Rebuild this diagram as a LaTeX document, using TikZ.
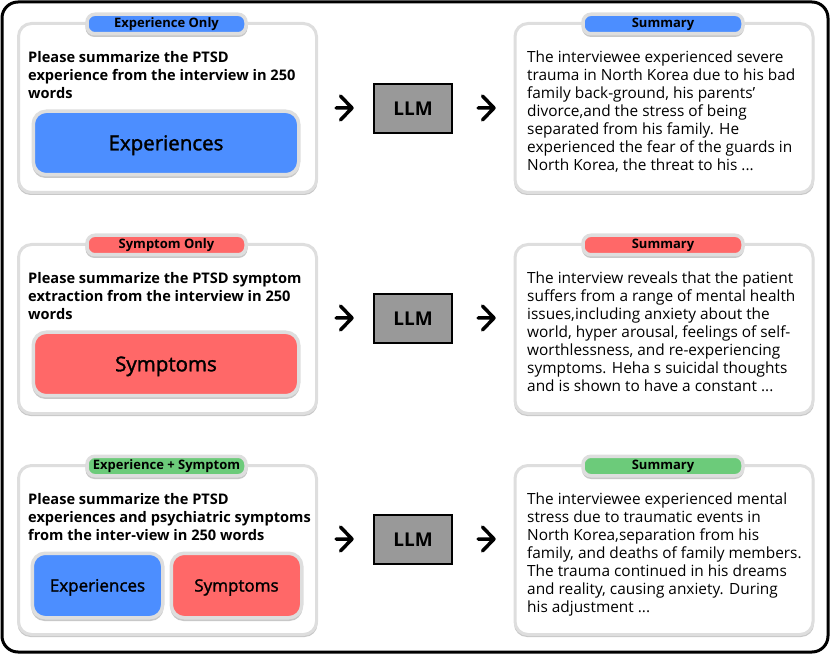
\documentclass[tikz,border=0pt]{standalone}
\usepackage{fontspec}
\setmainfont{Open Sans}
\newfontfamily\medfont{Open Sans}[FakeBold=1.6]
\definecolor{cblue}{HTML}{4C8EFF}
\definecolor{cred}{HTML}{FF6868}
\definecolor{cgreen}{HTML}{6CCB7A}
\definecolor{bgray}{HTML}{DEDEDE}
\definecolor{sgray}{HTML}{C8C8C8}
\definecolor{llmgray}{HTML}{999999}
\tikzset{
  frame/.style={draw=black, line width=3pt, rounded corners=16pt},
  panel/.style={draw=bgray, fill=white, line width=3pt, rounded corners=13pt, minimum width=298pt, minimum height=169pt, inner sep=0pt},
  pshadow/.style={fill=sgray, rounded corners=13pt, minimum width=300pt, minimum height=170pt, inner sep=0pt},
  pill/.style={draw=bgray, line width=3.5pt, rounded corners=8pt, minimum width=159pt, minimum height=19.5pt, inner sep=0pt, font=\fontsize{13}{14}\bfseries\selectfont},
  pillshadow/.style={fill=sgray, rounded corners=9pt, minimum width=162pt, minimum height=22pt, inner sep=0pt},
  prompt/.style={align=left, inner sep=0pt, anchor=north west, font=\fontsize{14.6}{18}\bfseries\selectfont},
  summ/.style={align=left, inner sep=0pt, anchor=north west, font=\fontsize{15.4}{18}\selectfont},
  bigbox/.style={draw=bgray, line width=3.5pt, rounded corners=13pt, minimum width=265.5pt, minimum height=63.5pt, inner sep=0pt, text height=14.6pt, text depth=0pt, font=\fontsize{20.5}{24}\medfont},
  smallbox/.style={draw=bgray, line width=3.5pt, rounded corners=13pt, minimum width=130.5pt, minimum height=64.5pt, inner sep=0pt, text height=12.1pt, text depth=0pt, font=\fontsize{17}{20}\medfont},
  boxshadow/.style={fill=sgray, rounded corners=13pt, inner sep=0pt},
  llm/.style={draw=black, fill=llmgray, line width=1.5pt, minimum width=78pt, minimum height=49pt, inner sep=0pt, font=\fontsize{19}{22}\bfseries\selectfont},
  arr/.style={line width=3.5pt, line cap=round, line join=round}
}
\newcommand\rowframe[5]{%
  \begin{scope}[shift={(0,#2)}]
    \node[pshadow] at (167.5,110) {};
    \node[panel] (L#1) at (167.5,108) {};
    \node[pshadow] at (664,110) {};
    \node[panel] (R#1) at (664,108) {};
    \node[pillshadow] at (166.5,26) {};
    \node[pill, fill=#3] (LP#1) at (166.5,24) {#4};
    \node[pillshadow] at (663,26) {};
    \node[pill, fill=#3, minimum width=160pt] (RP#1) at (663,24) {Summary};
  \end{scope}
  \begin{scope}[shift={(0,#5)}]
    \node[llm] (M#1) at (413,108.5) {LLM};
    \coordinate (as#1) at (336,108);
    \coordinate (ae#1) at (352,108);
    \coordinate (bs#1) at (478,108);
    \coordinate (be#1) at (494,108);
    \draw[arr] (as#1) -- (ae#1) (ae#1) -- ++(-11.5,-12) (ae#1) -- ++(-11.5,12);
    \draw[arr] (bs#1) -- (be#1) (be#1) -- ++(-11.5,-12) (be#1) -- ++(-11.5,12);
  \end{scope}}
\begin{document}
\begin{tikzpicture}[x=1pt,y=-1pt]
\useasboundingbox (0,0) rectangle (831,655);
\node[frame, minimum width=826pt, minimum height=650pt, inner sep=0pt] (F) at (415,327) {};
\rowframe{1}{0}{cblue}{Experience Only}{0}
\rowframe{2}{221}{cred}{Symptom Only}{210}
\rowframe{3}{442}{cgreen}{Experience + Symptom}{431}
% row 1
\node[prompt] (Q1) at (28,51) {Please summarize the PTSD\\experience from the interview in 250\\words};
\node[boxshadow, minimum width=267pt, minimum height=64pt] at (166,146) {};
\node[bigbox, fill=cblue] (E1) at (166,143) {Experiences};
\node[summ] (S1) at (527,51) {The interviewee experienced severe\\trauma in North Korea due to his bad\\family back-ground, his parents’\\divorce,and the stress of being\\separated from his family. He\\experienced the fear of the guards in\\North Korea, the threat to his ...};
% row 2
\node[prompt] (Q2) at (28,272) {Please summarize the PTSD symptom\\extraction from the interview in 250\\words};
\node[boxshadow, minimum width=267pt, minimum height=64pt] at (166,367) {};
\node[bigbox, fill=cred] (E2) at (166,364) {Symptoms};
\node[summ] (S2) at (527,272) {The interview reveals that the patient\\suffers from a range of mental health\\issues,including anxiety about the\\world, hyper arousal, feelings of self-\\worthlessness, and re-experiencing\\symptoms. Heha s suicidal thoughts\\and is shown to have a constant ...};
% row 3
\node[prompt] (Q3) at (28,493) {Please summarize the PTSD\\experiences and psychiatric symptoms\\from the inter-view in 250 words};
\node[boxshadow, minimum width=132pt, minimum height=65pt] at (97.5,588.5) {};
\node[smallbox, fill=cblue] (E3) at (97.5,585.5) {Experiences};
\node[boxshadow, minimum width=132pt, minimum height=65pt] at (236.5,588.5) {};
\node[smallbox, fill=cred] (Y3) at (236.5,585.5) {Symptoms};
\node[summ] (S3) at (527,493) {The interviewee experienced mental\\stress due to traumatic events in\\North Korea,separation from his\\family, and deaths of family members.\\The trauma continued in his dreams\\and reality, causing anxiety. During\\his adjustment ...};
\end{tikzpicture}
\end{document}
